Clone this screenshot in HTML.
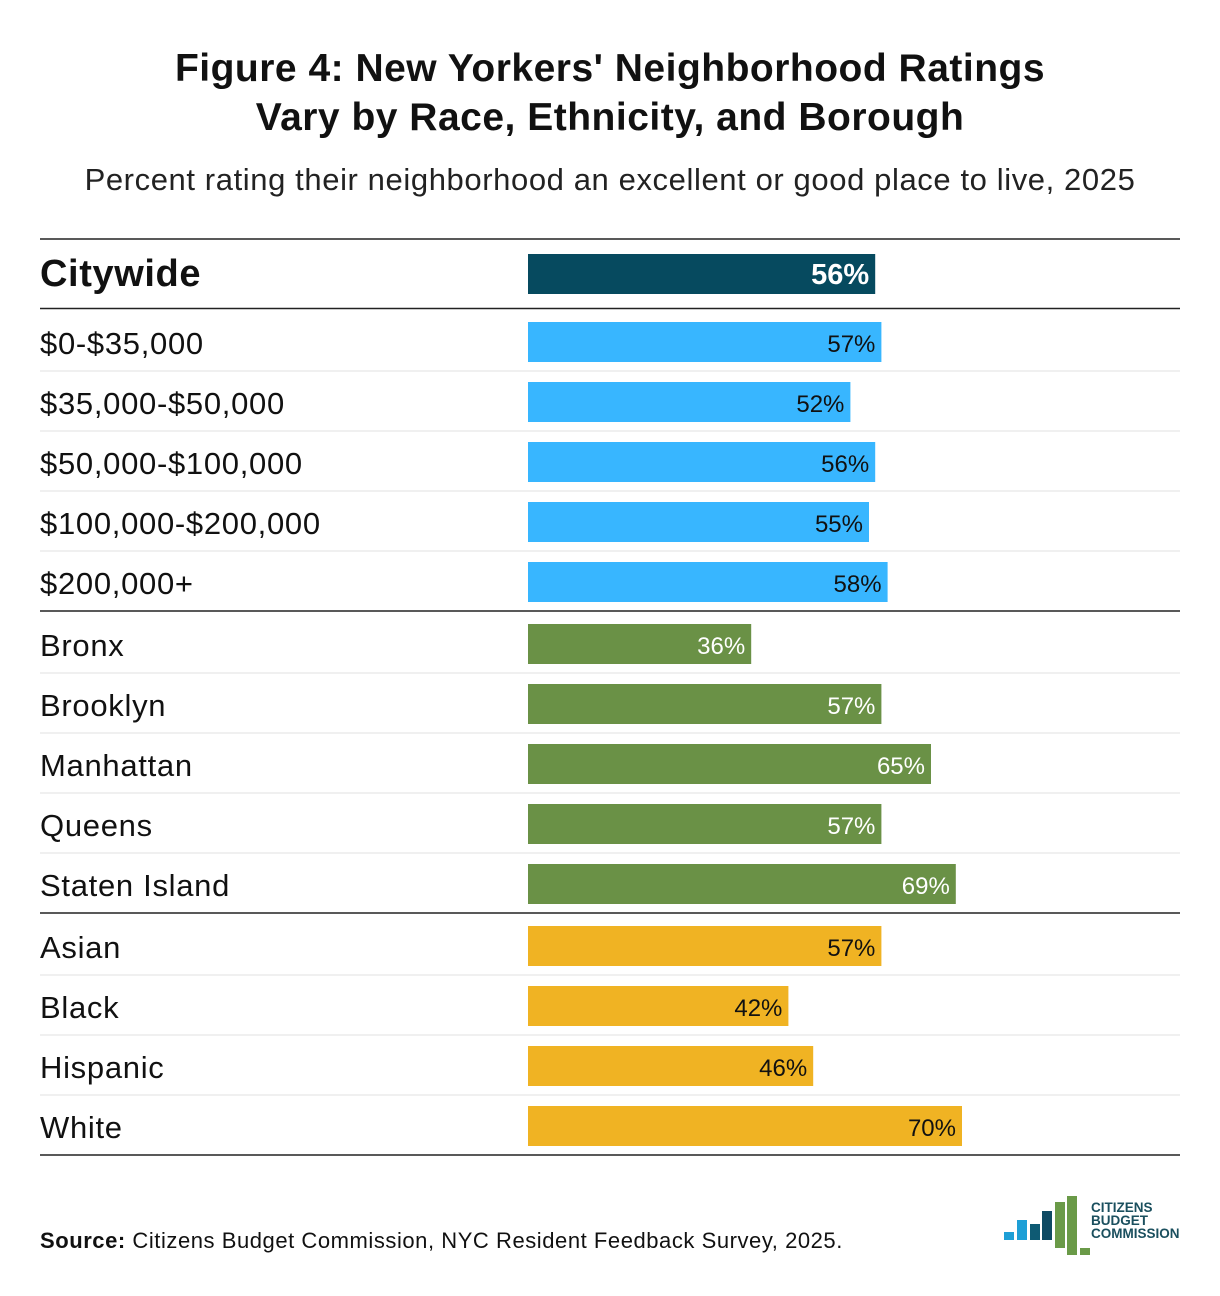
<!DOCTYPE html>
<html><head><meta charset="utf-8"><style>
body{margin:0;background:#fff;font-family:"Liberation Sans",sans-serif;}
#root{position:relative;width:1220px;height:1296px;overflow:hidden;}
.t{position:absolute;white-space:nowrap;}
</style></head><body>
<div id="root">
<div class="t" style="left:0;width:1220px;text-align:center;top:44px;font-size:39px;letter-spacing:0.5px;font-weight:bold;line-height:49px;color:#111">Figure 4: New Yorkers' Neighborhood Ratings<br>Vary by Race, Ethnicity, and Borough</div>
<div class="t" style="left:0;width:1220px;text-align:center;top:162px;font-size:31px;letter-spacing:0.6px;color:#222">Percent rating their neighborhood an excellent or good place to live, 2025</div>
<svg id="chart" width="1220" height="1296" style="position:absolute;left:0;top:0"></svg>
<div class="t" style="left:40px;top:1228px;font-size:22px;letter-spacing:0.55px;color:#111"><b>Source:</b> Citizens Budget Commission, NYC Resident Feedback Survey, 2025.</div>
<svg width="190" height="70" style="position:absolute;left:1000px;top:1190px">
<rect x="4" y="42" width="10" height="8" fill="#1e9fd6"/><rect x="17" y="30" width="10" height="20" fill="#1e9fd6"/>
<rect x="30" y="34" width="10" height="16" fill="#0e5a73"/><rect x="42" y="21" width="10" height="29" fill="#0e4a63"/>
<rect x="55" y="12" width="10" height="46" fill="#6a9a48"/><rect x="67" y="6" width="10" height="59" fill="#6a9a48"/>
<rect x="80" y="58" width="10" height="7" fill="#6a9a48"/>
<text x="91" y="22" font-size="13.5" font-weight="bold" fill="#1a4f5e" font-family="Liberation Sans">CITIZENS</text>
<text x="91" y="35" font-size="13.5" font-weight="bold" fill="#1a4f5e" font-family="Liberation Sans">BUDGET</text>
<text x="91" y="48" font-size="13.5" font-weight="bold" fill="#1a4f5e" font-family="Liberation Sans">COMMISSION</text>
</svg>
</div>
<script>
const categories=["Citywide","$0-$35,000","$35,000-$50,000","$50,000-$100,000","$100,000-$200,000","$200,000+","Bronx","Brooklyn","Manhattan","Queens","Staten Island","Asian","Black","Hispanic","White"];
const values=[56,57,52,56,55,58,36,57,65,57,69,57,42,46,70];
const groups=["city","income","income","income","income","income","borough","borough","borough","borough","borough","race","race","race","race"];
const NS="http://www.w3.org/2000/svg";
const svg=document.getElementById('chart');
const x0=528, pxPer=6.2;
function xScale(v){return v*pxPer;}
const colors={city:"#064a5f",income:"#38b6ff",borough:"#6a9146",race:"#f0b323"};
const txtCol={city:"#fff",income:"#111",borough:"#fff",race:"#111"};
function mk(tag,attrs){const e=document.createElementNS(NS,tag);for(const k in attrs)e.setAttribute(k,attrs[k]);svg.appendChild(e);return e;}
function line(y,c,w,name){const l=mk('line',{x1:40,x2:1180,y1:y,y2:y,stroke:c,'stroke-width':w});

}
line(239,"#222",1.5,"top-rule");
line(308.5,"#222",1.5,"citywide-rule");
let y=322;
for(let i=0;i<categories.length;i++){
  let by;
  if(i===0){by=254;}
  else{
    if(i===6){line(611,"#222",1.5,"group-rule");y+=2;}
    if(i===11){line(913,"#222",1.5,"group-rule");y+=2;}
    by=y; y+=60;
    if(i!==5&&i!==10&&i!==14){line(by+49,"#e2e2e2",1,"row-separator");}
  }
  const g=groups[i];
  const r=mk('rect',{x:x0,y:by,width:xScale(values[i]),height:40,fill:colors[g]});
  
  
  const lab=mk('text',{x:40,y:by+32,'font-size':i===0?38:31,'letter-spacing':i===0?0.6:0.7,'font-weight':i===0?'bold':'normal',fill:'#111','font-family':'Liberation Sans'});
  lab.textContent=categories[i];
  
  
  const vt=mk('text',{x:x0+xScale(values[i])-6,y:by+30,'text-anchor':'end','font-size':i===0?29:24,'font-weight':i===0?'bold':'normal',fill:txtCol[g],'font-family':'Liberation Sans'});
  vt.textContent=values[i]+'%';
  
  
}
line(1155,"#222",1.5,"bottom-rule");
</script>
</body></html>
